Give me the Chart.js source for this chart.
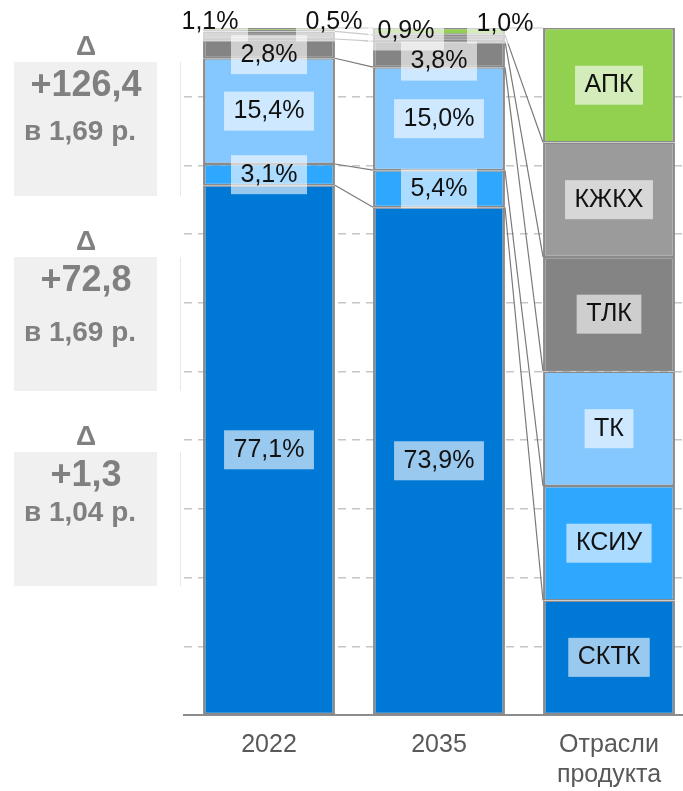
<!DOCTYPE html>
<html lang="ru">
<head>
<meta charset="utf-8">
<title>Структура по отраслям продукта</title>
<script src="https://cdn.jsdelivr.net/npm/chart.js@4.4.1/dist/chart.umd.min.js"></script>
<style>
    body { margin: 0; background: #fff; }
    .wrap { width: 683px; height: 791px; overflow: hidden; }
</style>
</head>
<body>
<div class="wrap"><canvas id="share-chart" width="700" height="791"></canvas></div>
<script>
// Columns and sectors
const columns = ['2022', '2035', ['Отрасли', 'продукта']];
const sectors = ['СКТК', 'КСИУ', 'ТК', 'ТЛК', 'КЖКХ', 'АПК'];

// Shares by sector, %
const share2022 = [77.1, 3.1, 15.4, 2.8, 1.1, 0.5];
const share2035 = [73.9, 5.4, 15.0, 3.8, 0.9, 1.0];
// Key column: equal blocks for every sector
const sectorKey = [16.67, 16.67, 16.67, 16.67, 16.66, 16.66];

// Growth panel on the left
const growthAbs = ['+126,4', '+72,8', '+1,3'];
const growthRatio = ['в 1,69 р.', 'в 1,69 р.', 'в 1,04 р.'];

const sectorColors = ['#0079d6', '#2ea8ff', '#85c8ff', '#848484', '#9b9b9b', '#92d050'];
const FONT = '"Liberation Sans", Arial, sans-serif';

function fmt(v) {
    return v.toFixed(1).replace('.', ',') + '%';
}

// Grey boxes with the deltas
const growthPanel = {
    id: 'growthPanel',
    beforeDraw(chart) {
        const ctx = chart.ctx;
        const tops = [62, 257, 452];
        const ratioDy = [70, 76, 61];
        ctx.save();
        ctx.textAlign = 'center';
        ctx.textBaseline = 'middle';
        tops.forEach((top, i) => {
            ctx.fillStyle = '#f0f0f0';
            ctx.fillRect(14, top, 143, 134);
            ctx.strokeStyle = '#e8e8e8';
            ctx.lineWidth = 1;
            ctx.beginPath();
            ctx.moveTo(180.5, top);
            ctx.lineTo(180.5, top + 134);
            ctx.stroke();

            ctx.fillStyle = '#808080';
            ctx.font = 'bold 28px ' + FONT;
            ctx.fillText('Δ', 86, top - 15);
            ctx.font = 'bold 36px ' + FONT;
            ctx.fillText(growthAbs[i], 86, top + 24);
            ctx.font = 'bold 28px ' + FONT;
            ctx.fillText(growthRatio[i], 80, top + ratioDy[i]);
        });
        ctx.restore();
    }
};

function drawTag(ctx, text, x, y) {
    const w = ctx.measureText(text).width + 19;
    const h = 39;
    ctx.fillStyle = 'rgba(255,255,255,0.6)';
    ctx.fillRect(x - w / 2, y - h / 2, w, h);
    ctx.fillStyle = '#111';
    ctx.fillText(text, x, y);
}

// Connectors between columns + segment labels
const segmentLabels = {
    id: 'segmentLabels',
    afterDatasetsDraw(chart) {
        const { ctx, chartArea } = chart;
        ctx.save();

        ctx.strokeStyle = '#7a7a7a';
        ctx.lineWidth = 1.2;
        chart.data.datasets.forEach((ds, i) => {
            const bars = chart.getDatasetMeta(i).data;
            for (let j = 0; j < bars.length - 1; j++) {
                const a = bars[j].getProps(['x', 'y', 'width'], true);
                const b = bars[j + 1].getProps(['x', 'y', 'width'], true);
                ctx.beginPath();
                ctx.moveTo(a.x + a.width / 2, a.y);
                ctx.lineTo(b.x - b.width / 2, b.y);
                ctx.stroke();
            }
        });

        // small top segments are labelled above the bar
        const outside = {
            'КЖКХ': [[-59, -6], [-33, 3]],
            'АПК': [[65, -6], [66, -4]]
        };
        const shiftDown = { 'ТЛК': [6, 7] };

        ctx.font = '25px ' + FONT;
        ctx.textAlign = 'center';
        ctx.textBaseline = 'middle';
        chart.data.datasets.forEach((ds, i) => {
            const name = sectors[i];
            chart.getDatasetMeta(i).data.forEach((bar, j) => {
                const p = bar.getProps(['x', 'y', 'base'], true);
                let x = p.x;
                let y = (p.y + p.base) / 2;
                let text = j === 2 ? name : fmt(ds.data[j]);
                if (j < 2 && outside[name]) {
                    x = p.x + outside[name][j][0];
                    y = chartArea.top + outside[name][j][1];
                } else if (j < 2 && shiftDown[name]) {
                    y += shiftDown[name][j];
                }
                drawTag(ctx, text, x, y);
            });
        });
        ctx.restore();
    }
};

const chart = new Chart(document.getElementById('share-chart'), {
    type: 'bar',
    data: {
        labels: columns,
        datasets: sectors.map((name, i) => ({
            label: name,
            data: [share2022[i], share2035[i], sectorKey[i]],
            backgroundColor: sectorColors[i],
            borderColor: '#8a8a8a',
            borderWidth: { top: 1.5, bottom: 1.5, left: 2.5, right: 2.5 },
            borderSkipped: false,
            barPercentage: 0.776,
            categoryPercentage: 1
        }))
    },
    options: {
        responsive: false,
        animation: false,
        events: [],
        layout: { padding: { left: 184, right: 6, top: 28, bottom: 0 } },
        plugins: {
            legend: { display: false },
            tooltip: { enabled: false }
        },
        scales: {
            x: {
                stacked: true,
                grid: { display: false, drawTicks: false },
                border: { display: true, color: '#8c8c8c', width: 2 },
                ticks: {
                    color: '#595959',
                    padding: 15,
                    font: { family: FONT, size: 25, lineHeight: 1.2 }
                },
                afterFit(scale) {
                    scale.height = 76;
                }
            },
            y: {
                stacked: true,
                min: 0,
                max: 100,
                ticks: { display: false, stepSize: 10 },
                grid: {
                    drawTicks: false,
                    lineWidth: 1.5,
                    color: (c) => (c.tick && (c.tick.value === 0 || c.tick.value === 100)) ? 'rgba(0,0,0,0)' : '#c6c6c6'
                },
                border: { display: false, dash: [8, 6] }
            }
        }
    },
    plugins: [growthPanel, segmentLabels]
});
</script>
</body>
</html>
